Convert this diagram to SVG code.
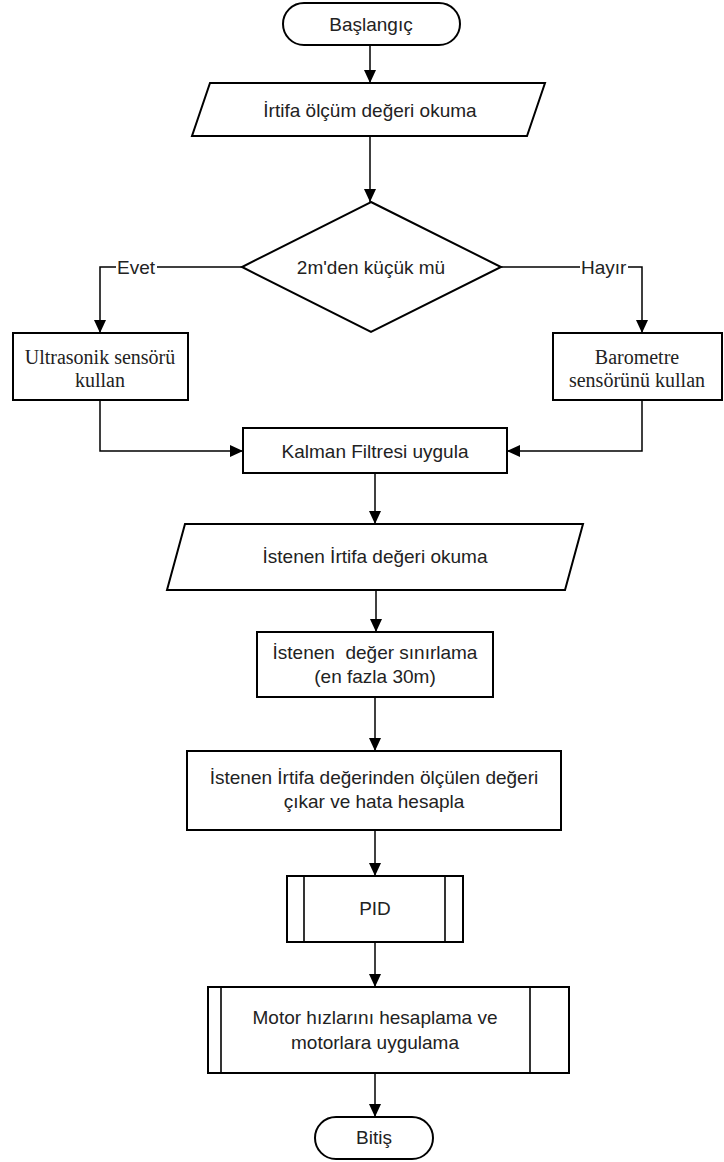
<svg xmlns="http://www.w3.org/2000/svg" width="724" height="1162" viewBox="0 0 724 1162">
  <defs>
    <marker id="arrow" markerWidth="13" markerHeight="12" refX="13" refY="6" orient="auto" markerUnits="userSpaceOnUse">
      <path d="M0,0 L13,6 L0,12 z" fill="#000"/>
    </marker>
    <style>
      .shape { fill: #fff; stroke: #000; stroke-width: 2; }
      .inner { fill: none; stroke: #000; stroke-width: 1.6; }
      .conn { fill: none; stroke: #000; stroke-width: 1.5; }
      .arrow { marker-end: url(#arrow); }
      .lbl { font-family: "Liberation Sans", Arial, sans-serif; font-size: 19px; fill: #222; text-anchor: middle; dominant-baseline: central; }
      .serif { font-family: "Liberation Serif", "Times New Roman", serif; font-size: 20px; fill: #222; text-anchor: middle; dominant-baseline: central; }
      .edge { font-family: "Liberation Sans", Arial, sans-serif; font-size: 19px; fill: #222; dominant-baseline: central; }
    </style>
  </defs>
  <rect width="724" height="1162" fill="#fff"/>

  <!-- connectors -->
  <g id="connectors">
    <path class="conn arrow" d="M370,45 V83"/>
    <path class="conn arrow" d="M370,136 V202"/>
    <path class="conn" d="M242,267 H157"/>
    <path class="conn arrow" d="M116,267 H100 V333"/>
    <path class="conn" d="M501,267 H580"/>
    <path class="conn arrow" d="M628,267 H642 V333"/>
    <path class="conn arrow" d="M100,400 V451 H243"/>
    <path class="conn arrow" d="M642,400 V451 H507"/>
    <path class="conn arrow" d="M375,473 V524"/>
    <path class="conn arrow" d="M376,590 V632"/>
    <path class="conn arrow" d="M375,697 V751"/>
    <path class="conn arrow" d="M375,830 V876"/>
    <path class="conn arrow" d="M375,942 V987"/>
    <path class="conn arrow" d="M375,1073 V1117"/>
    <text class="edge" x="117" y="267">Evet</text>
    <text class="edge" x="581" y="267">Hayır</text>
  </g>

  <g id="start">
    <rect class="shape" x="283" y="3" width="177" height="42" rx="21" ry="21"/>
    <text class="lbl" x="371" y="24">Başlangıç</text>
  </g>

  <g id="read-altitude">
    <polygon class="shape" points="210,83 545,83 527,136 192,136"/>
    <text class="lbl" x="370" y="110">İrtifa ölçüm değeri okuma</text>
  </g>

  <g id="decision">
    <polygon class="shape" points="371,202 501,267 371,332 242,267"/>
    <text class="lbl" x="371" y="267">2m'den küçük mü</text>
  </g>

  <g id="ultrasonic">
    <rect class="shape" x="13" y="333" width="175" height="67"/>
    <text class="serif" x="100" y="357">Ultrasonik sensörü</text>
    <text class="serif" x="100" y="380">kullan</text>
  </g>

  <g id="barometer">
    <rect class="shape" x="553" y="333" width="169" height="67"/>
    <text class="serif" x="637" y="357">Barometre</text>
    <text class="serif" x="637" y="380">sensörünü kullan</text>
  </g>

  <g id="kalman">
    <rect class="shape" x="243" y="428" width="264" height="45"/>
    <text class="lbl" x="375" y="451">Kalman Filtresi uygula</text>
  </g>

  <g id="read-setpoint">
    <polygon class="shape" points="185,524 583,524 565,590 167,590"/>
    <text class="lbl" x="375" y="556">İstenen İrtifa değeri okuma</text>
  </g>

  <g id="limit">
    <rect class="shape" x="257" y="632" width="236" height="65"/>
    <text class="lbl" x="375" y="652" xml:space="preserve">İstenen  değer sınırlama</text>
    <text class="lbl" x="375" y="676">(en fazla 30m)</text>
  </g>

  <g id="error">
    <rect class="shape" x="187" y="751" width="374" height="79"/>
    <text class="lbl" x="374" y="777">İstenen İrtifa değerinden ölçülen değeri</text>
    <text class="lbl" x="374" y="801">çıkar ve hata hesapla</text>
  </g>

  <g id="pid">
    <rect class="shape" x="287" y="876" width="176" height="66"/>
    <line class="inner" x1="304" y1="876" x2="304" y2="942"/>
    <line class="inner" x1="445" y1="876" x2="445" y2="942"/>
    <text class="lbl" x="375" y="908">PID</text>
  </g>

  <g id="motors">
    <rect class="shape" x="208" y="987" width="361" height="86"/>
    <line class="inner" x1="221" y1="987" x2="221" y2="1073"/>
    <line class="inner" x1="530" y1="987" x2="530" y2="1073"/>
    <text class="lbl" x="375" y="1017">Motor hızlarını hesaplama ve</text>
    <text class="lbl" x="375" y="1042">motorlara uygulama</text>
  </g>

  <g id="end">
    <rect class="shape" x="315" y="1117" width="118" height="42" rx="21" ry="21"/>
    <text class="lbl" x="374" y="1137">Bitiş</text>
  </g>
</svg>
